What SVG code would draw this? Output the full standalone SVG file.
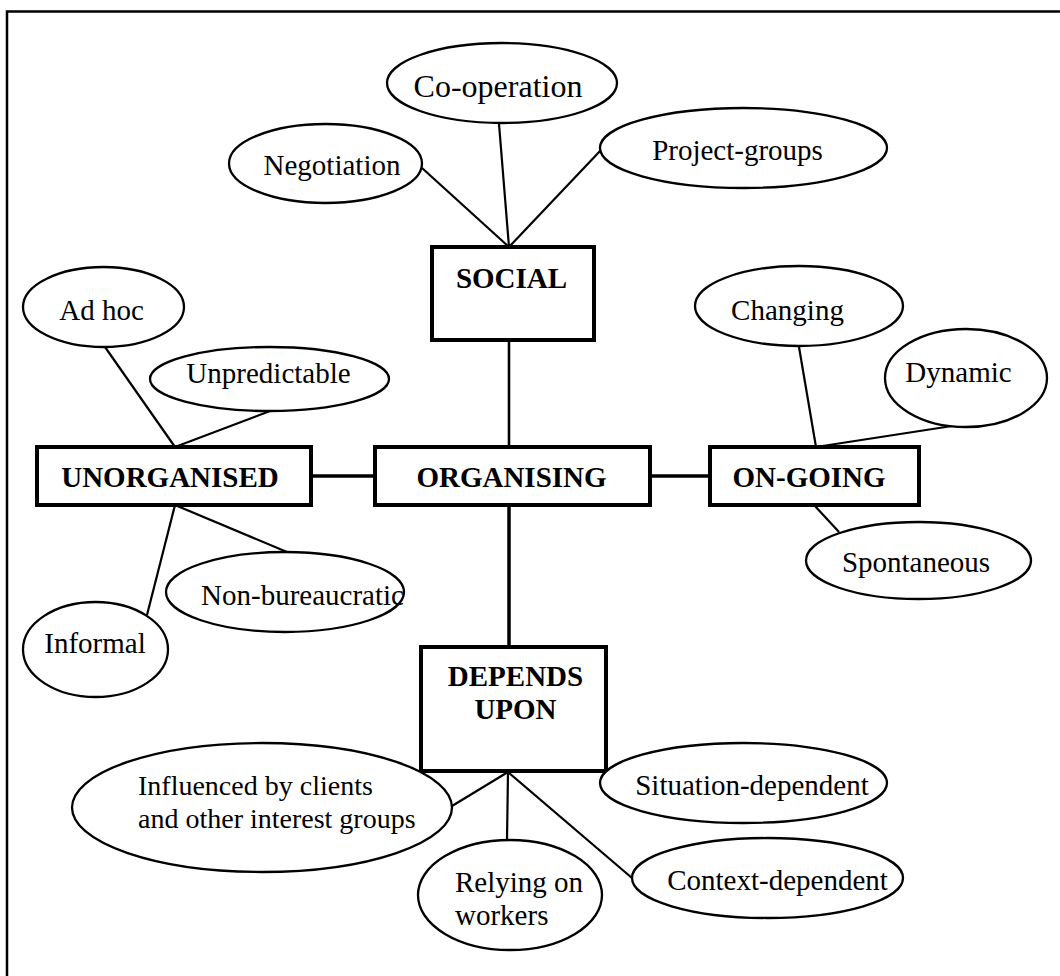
<svg xmlns="http://www.w3.org/2000/svg" width="1060" height="976" viewBox="0 0 1060 976">
  <style>
    .frame { fill: none; stroke: #000; stroke-width: 2.5; }
    .box { fill: #fff; stroke: #000; stroke-width: 4; }
    .oval { fill: #fff; stroke: #000; stroke-width: 2.3; }
    .link { fill: none; stroke: #000; stroke-width: 2.2; }
    .trunk { fill: none; stroke: #000; stroke-width: 3.5; }
    .lbl { font-family: "Liberation Serif", "Times New Roman", serif; font-size: 29px; fill: #000; text-anchor: middle; }
    .head { font-family: "Liberation Serif", "Times New Roman", serif; font-size: 29px; font-weight: bold; fill: #000; text-anchor: middle; }
    .left { text-anchor: start; }
  </style>
  <rect width="1060" height="976" fill="#fff"/>

  <!-- page frame: top and left rules only -->
  <path class="frame" d="M7,976 V11.5 H1060"/>

  <!-- connectors -->
  <g id="connectors">
    <!-- SOCIAL spokes -->
    <line class="link" x1="422" y1="168" x2="509" y2="247"/>
    <line class="link" x1="499" y1="124" x2="509" y2="247"/>
    <line class="link" x1="601" y1="150" x2="509" y2="247"/>
    <line class="trunk" x1="509" y1="340" x2="509" y2="447" style="stroke-width:2.6"/>
    <!-- main axis -->
    <line class="trunk" x1="311" y1="476" x2="375" y2="476"/>
    <line class="trunk" x1="650" y1="476" x2="710" y2="476"/>
    <line class="trunk" x1="509" y1="505" x2="509" y2="647"/>
    <!-- UNORGANISED spokes -->
    <line class="link" x1="105" y1="347" x2="175" y2="447"/>
    <line class="link" x1="270" y1="411" x2="175" y2="447"/>
    <line class="link" x1="175" y1="505" x2="287" y2="552"/>
    <line class="link" x1="175" y1="505" x2="147" y2="615"/>
    <!-- ON-GOING spokes -->
    <line class="link" x1="799" y1="347" x2="816" y2="447"/>
    <line class="link" x1="952" y1="426" x2="816" y2="447"/>
    <line class="link" x1="814" y1="505" x2="839" y2="532"/>
    <!-- DEPENDS UPON spokes -->
    <line class="link" x1="452" y1="806" x2="508" y2="772"/>
    <line class="link" x1="508" y1="772" x2="507" y2="840"/>
    <line class="link" x1="508" y1="772" x2="632" y2="878"/>
  </g>

  <!-- SOCIAL cluster -->
  <g id="co-operation">
    <ellipse class="oval" cx="502" cy="83" rx="115" ry="40"/>
    <text class="lbl" x="498" y="97" style="font-size:32px">Co-operation</text>
  </g>
  <g id="negotiation">
    <ellipse class="oval" cx="325.5" cy="163.5" rx="96.5" ry="39.5"/>
    <text class="lbl" x="332" y="175">Negotiation</text>
  </g>
  <g id="project-groups">
    <ellipse class="oval" cx="743.5" cy="148" rx="143.5" ry="40"/>
    <text class="lbl" x="737.5" y="160">Project-groups</text>
  </g>
  <g id="social">
    <rect class="box" x="432" y="247" width="162" height="93"/>
    <text class="head" x="511.5" y="288">SOCIAL</text>
  </g>

  <!-- UNORGANISED cluster -->
  <g id="ad-hoc">
    <ellipse class="oval" cx="103.5" cy="307" rx="80.5" ry="40"/>
    <text class="lbl" x="101.5" y="320">Ad hoc</text>
  </g>
  <g id="unpredictable">
    <ellipse class="oval" cx="269.5" cy="379" rx="119.5" ry="32"/>
    <text class="lbl" x="268.5" y="383">Unpredictable</text>
  </g>
  <g id="unorganised">
    <rect class="box" x="37" y="447" width="274" height="58"/>
    <text class="head" x="170" y="487">UNORGANISED</text>
  </g>
  <g id="non-bureaucratic">
    <ellipse class="oval" cx="285" cy="592" rx="119" ry="40"/>
    <text class="lbl" x="302.5" y="605">Non-bureaucratic</text>
  </g>
  <g id="informal">
    <ellipse class="oval" cx="95.5" cy="649.5" rx="72.5" ry="47.5"/>
    <text class="lbl" x="95" y="653">Informal</text>
  </g>

  <!-- centre -->
  <g id="organising">
    <rect class="box" x="375" y="447" width="275" height="58"/>
    <text class="head" x="511.5" y="487">ORGANISING</text>
  </g>

  <!-- ON-GOING cluster -->
  <g id="changing">
    <ellipse class="oval" cx="799" cy="306" rx="104" ry="40"/>
    <text class="lbl" x="787.5" y="320">Changing</text>
  </g>
  <g id="dynamic">
    <ellipse class="oval" cx="966" cy="378" rx="81" ry="49"/>
    <text class="lbl" x="958.5" y="382">Dynamic</text>
  </g>
  <g id="on-going">
    <rect class="box" x="710" y="447" width="209" height="58"/>
    <text class="head" x="809" y="487">ON-GOING</text>
  </g>
  <g id="spontaneous">
    <ellipse class="oval" cx="918.5" cy="560.5" rx="112.5" ry="38.5"/>
    <text class="lbl" x="916" y="572">Spontaneous</text>
  </g>

  <!-- DEPENDS UPON cluster -->
  <g id="depends-upon">
    <rect class="box" x="421" y="647" width="185" height="124"/>
    <text class="head" x="515.5" y="686">DEPENDS</text>
    <text class="head" x="515.5" y="719">UPON</text>
  </g>
  <g id="influenced">
    <ellipse class="oval" cx="262" cy="807.5" rx="190" ry="64.5"/>
    <text class="lbl left" x="138" y="795" style="font-size:28px">Influenced by clients</text>
    <text class="lbl left" x="138" y="828" style="font-size:28px">and other interest groups</text>
  </g>
  <g id="relying">
    <ellipse class="oval" cx="510" cy="895" rx="92" ry="55"/>
    <text class="lbl left" x="455" y="892">Relying on</text>
    <text class="lbl left" x="455" y="925">workers</text>
  </g>
  <g id="situation-dependent">
    <ellipse class="oval" cx="743.5" cy="783" rx="143.5" ry="40"/>
    <text class="lbl" x="752" y="795">Situation-dependent</text>
  </g>
  <g id="context-dependent">
    <ellipse class="oval" cx="767.5" cy="878" rx="135.5" ry="40"/>
    <text class="lbl" x="777.5" y="890">Context-dependent</text>
  </g>
</svg>
